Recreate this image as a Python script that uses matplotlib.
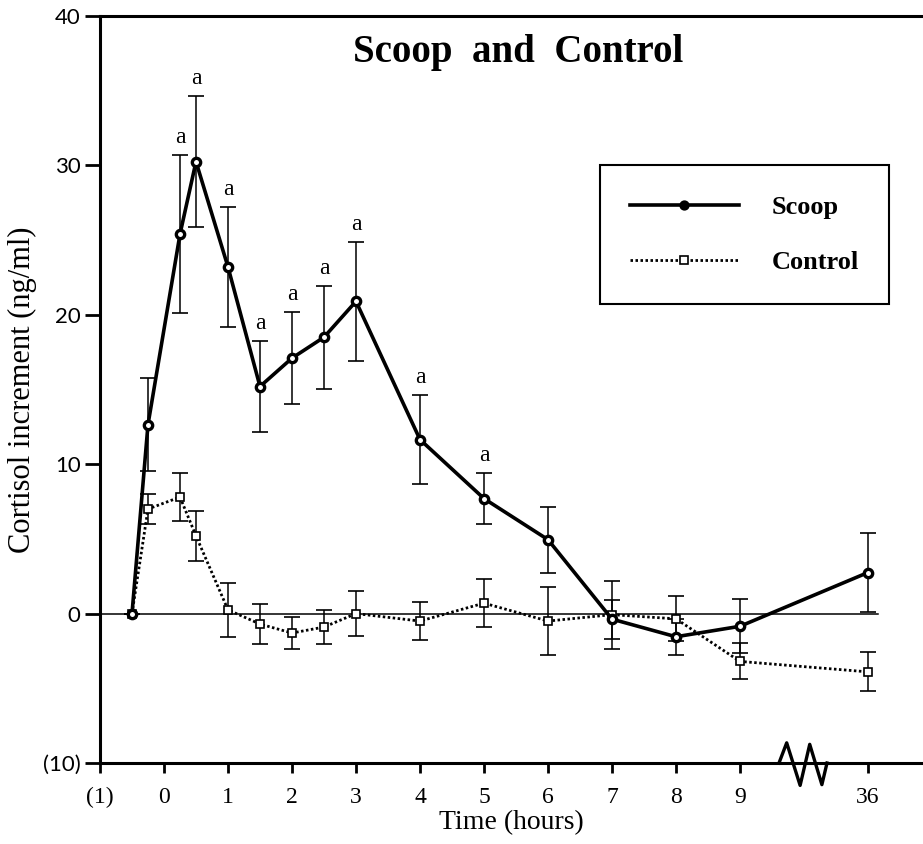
import numpy as np
import matplotlib.pyplot as plt

plt.rcParams['font.family'] = ['Liberation Serif', 'DejaVu Serif']

# sampling times (hours); 36 h sits after the axis break
hours = np.array([-0.5, -0.25, 0.25, 0.5, 1, 1.5, 2, 2.5, 3, 4, 5, 6, 7, 8, 9, 36])

scoop_mean = [0, 12.65, 25.4, 30.25, 23.2, 15.2, 17.1, 18.5, 20.9, 11.65, 7.7, 4.95, -0.37, -1.55, -0.85, 2.75]
scoop_se = [0, 3.1, 5.3, 4.4, 4.0, 3.05, 3.1, 3.45, 4.0, 3.0, 1.7, 2.2, 1.3, 1.2, 1.8, 2.65]

control_mean = [0, 7.0, 7.8, 5.2, 0.25, -0.7, -1.3, -0.9, 0.0, -0.5, 0.7, -0.5, -0.07, -0.35, -3.2, -3.9]
control_se = [0, 1.0, 1.6, 1.7, 1.8, 1.35, 1.05, 1.15, 1.5, 1.3, 1.6, 2.3, 2.27, 1.5, 1.2, 1.3]

# times where scoop differs from control
sig_hours = [0.25, 0.5, 1, 1.5, 2, 2.5, 3, 4, 5]

tick_hours = [-1, 0, 1, 2, 3, 4, 5, 6, 7, 8, 9, 36]
tick_labels = ['(1)', '0', '1', '2', '3', '4', '5', '6', '7', '8', '9', '36']
ytick_vals = [-10, 0, 10, 20, 30, 40]
ytick_labels = ['(10)', '0', '10', '20', '30', '40']


def to_axis(h):
    # squeeze the long gap: 36 h is drawn two units after 9 h
    h = np.asarray(h, dtype=float)
    return np.where(h > 10, 11, h)


x = to_axis(hours)

fig = plt.figure(figsize=(9.23, 8.44), dpi=100)
ax = fig.add_axes([100 / 923, 81 / 844, 823 / 923, 747 / 844])

ax.axhline(0, xmin=0, xmax=(11.15 + 1) / 12.86, color='black', lw=1.1, zorder=1)

# error bars first, then the lines with markers on top
ax.errorbar(x, control_mean, yerr=control_se, fmt='none', ecolor='black',
            elinewidth=1.1, capsize=6, capthick=1.2, zorder=2)
ax.errorbar(x, scoop_mean, yerr=scoop_se, fmt='none', ecolor='black',
            elinewidth=1.1, capsize=6, capthick=1.2, zorder=2)

ct, = ax.plot(x, control_mean, color='black', lw=2.0, linestyle=(0, (0.9, 0.9)),
              marker='s', markersize=5.5, mfc='white', mec='black', mew=1.2, zorder=3)
sc, = ax.plot(x, scoop_mean, color='black', lw=2.6, marker='o', markersize=6,
              mfc='white', mec='black', mew=2.4, zorder=4)

for h in sig_hours:
    i = list(hours).index(h)
    ax.annotate('a', (to_axis(h), scoop_mean[i] + scoop_se[i]), xytext=(0, 5),
                textcoords='offset points', ha='center', va='bottom', fontsize=17)

ax.set_xlim(-1, 11.86)
ax.set_ylim(-10, 40)
ax.set_xticks(to_axis(tick_hours))
ax.set_xticklabels(tick_labels, fontsize=17)
ax.set_yticks(ytick_vals)
ax.set_yticklabels(ytick_labels, fontsize=16, family='Lato')
ax.tick_params(axis='x', direction='out', length=7, width=2, pad=10)
ax.tick_params(axis='y', direction='out', length=11, width=2, pad=3)

for side in ['left', 'bottom', 'top']:
    ax.spines[side].set_linewidth(2.2)
ax.spines['right'].set_visible(False)

# axis break mark on the time axis
bx = [9.61, 9.73, 9.94, 10.09, 10.28, 10.36]
by = [-10, -8.65, -11.5, -8.75, -11.45, -10]
ax.plot(bx, by, color='black', lw=2.4, clip_on=False, zorder=5)

ax.set_xlabel('Time (hours)', fontsize=20, labelpad=2)
ax.set_ylabel('Cortisol increment (ng/ml)', fontsize=22, labelpad=4)
ax.text(0.508, 0.951, 'Scoop  and  Control', transform=ax.transAxes, ha='center',
        va='center', fontsize=28, fontweight='bold')

leg = ax.legend([sc, ct], ['Scoop', 'Control'], loc='upper left',
                bbox_to_anchor=(600 / 923, 1 - 165 / 844), bbox_transform=fig.transFigure,
                borderaxespad=0, frameon=True, fancybox=False, framealpha=1,
                edgecolor='black', handlelength=4.1, handletextpad=1.25,
                labelspacing=1.2, borderpad=1.15, prop={'weight': 'bold', 'size': 19})
leg.get_frame().set_linewidth(1.5)
leg.legend_handles[0].set_markersize(5)
leg.legend_handles[0].set_markerfacecolor('black')

fig.savefig('out.png', dpi=100)
